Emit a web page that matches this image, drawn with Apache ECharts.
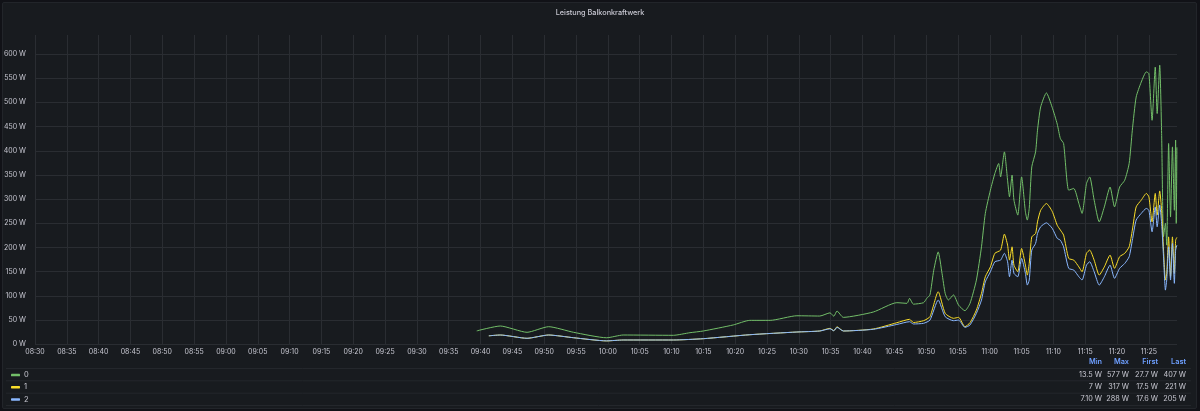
<!DOCTYPE html>
<html>
<head>
<meta charset="utf-8">
<script src="https://cdn.jsdelivr.net/npm/echarts@6/dist/echarts.min.js"></script>
<style>
  html, body { margin: 0; padding: 0; background: #111217; }
  #panel { position: absolute; left: 2px; top: 2px; width: 1193px; height: 405px;
           background: #181b1f; border: 1px solid #22252a; border-radius: 2px; }
  #chart { position: absolute; left: 0; top: 0; width: 1200px; height: 411px; }
</style>
</head>
<body>
<div id="panel"></div>
<div id="chart"></div>
<script>
var seriesNames = ['0', '1', '2'];
var seriesColors = ['#73bf69', '#fade2a', '#8ab8ff'];

// Serie 0 (gruen) startet etwas frueher
var times0 = ['09:39:24','09:43:06','09:47:18','09:50:42','09:54:36','09:59:48','10:02:24','10:10:18','10:12:54','10:15:00',
  '10:19:42','10:22:18','10:25:30','10:29:42','10:33:18','10:34:54','10:35:30','10:36:00','10:37:00','10:41:42',
  '10:45:24','10:47:00','10:47:24','10:48:00','10:49:36','10:50:06','10:50:36','10:51:12','10:51:54','10:52:30',
  '10:53:00','10:53:30','10:54:18','10:55:06','10:56:06','10:56:54','10:57:54','10:58:42','10:59:18','11:00:06',
  '11:00:48','11:01:24','11:01:42','11:02:18','11:02:48','11:03:06','11:03:30','11:03:48','11:04:24','11:05:00',
  '11:05:36','11:05:54','11:06:12','11:06:36','11:07:12','11:07:30','11:08:00','11:08:54','11:09:48','11:10:36',
  '11:11:06','11:11:36','11:12:24','11:13:12','11:14:00','11:14:30','11:15:12','11:15:42','11:16:24','11:17:12',
  '11:18:00','11:18:54','11:19:36','11:20:24','11:21:12','11:21:54','11:22:24','11:23:00','11:23:48','11:24:36',
  '11:25:00','11:25:30','11:26:00','11:26:18','11:26:42','11:27:00','11:27:18','11:27:36','11:27:48','11:28:06',
  '11:28:24','11:28:42','11:29:00','11:29:12','11:29:18','11:29:24'];
var values0 = [27.7,37.8,24.8,36.4,24.8,13.5,19.2,18.6,24,27.5,
  40,49.5,49.5,59,58.4,65,58,68.8,55.7,66.7,
  86,84.7,95,83,86,95,102,153,191,146.6,
  105,91.5,102,81,69.4,84.7,132.8,201.5,270.5,318.6,
  353,373.7,346,397.7,339,304.8,349.6,298,267,346,
  273.8,256.7,280.8,366.7,397.7,442.5,490.6,519.5,490,455,
  425,415,318.6,322,291,270.5,332.4,346,298,253,
  284,325,284,325,339,373.7,442.5,511,542,563,
  559.6,463,573,477,577,435.7,222,250,205,415,
  263,408,277,422,250,407];

// Serien 1 und 2 (gelb, blau)
var times12 = ['09:41:18','09:43:06','09:47:18','09:50:42','09:54:36','09:59:48','10:02:24','10:10:18','10:15:00','10:22:18',
  '10:29:42','10:33:18','10:34:54','10:35:30','10:36:00','10:37:00','10:41:42','10:45:24','10:47:24','10:48:00',
  '10:49:36','10:50:36','10:51:54','10:53:00','10:54:18','10:55:06','10:56:06','10:56:54','10:57:54','10:58:42',
  '10:59:18','11:00:06','11:00:48','11:01:42','11:02:18','11:02:48','11:03:06','11:03:30','11:03:48','11:04:24',
  '11:05:00','11:05:36','11:05:54','11:06:12','11:06:36','11:07:12','11:07:30','11:08:00','11:08:54','11:09:48',
  '11:10:36','11:11:06','11:11:36','11:12:24','11:13:12','11:14:00','11:14:30','11:15:12','11:15:42','11:16:24',
  '11:17:12','11:18:00','11:18:54','11:19:36','11:20:24','11:21:12','11:21:54','11:22:24','11:23:00','11:23:48',
  '11:24:36','11:25:00','11:25:30','11:26:00','11:26:18','11:26:42','11:27:00','11:27:18','11:27:36','11:27:48',
  '11:28:06','11:28:24','11:28:42','11:29:00','11:29:12','11:29:24'];
var values1 = [17.5,19.2,12.4,19.2,13.6,7,8.9,8.9,11.6,19.8,
  25.4,27.5,33,28,36.3,27.5,31.6,44.6,51.6,45,
  48.8,57,108.6,64,53.7,55.7,36.3,44.6,70.8,105.3,
  139.6,160,188,194.7,227.7,205,174,201.5,163.7,150,
  198,163.7,143,167,222,229,253,277,291,275,
  246,236,225.7,177.6,174,160,150,188,194.7,174,
  143,160,184.4,157,181,188,201.5,236,284,298,
  311.8,304.8,253,311.8,267,317,277,194.7,132.8,146.6,
  222,139.6,222,146.6,215,221];
var values2 = [17.6,19.2,12.4,19.2,13.6,7.1,8.9,8.9,11.6,19.8,
  25.4,27.5,32,28,35,27.5,31,41,46.7,42,
  43.4,50,91.5,57,48.8,50,35,40,64,91.5,
  129,150,170.6,174,188,170.6,139.6,174,146.6,139.6,
  177.6,146.6,122.4,132.8,194.7,208.5,229,243,251,240,
  219,215,201.5,157,153.4,139.6,132.8,163.7,170.6,150,
  122.4,139.6,163.7,136.3,157,167,181,215,256.7,270.5,
  280.8,277,232.5,284,243,288,250,181,112,132.8,
  201.5,132.8,208.5,126,194.7,205];

// Legende als Tabelle
var statHeader = ['Min', 'Max', 'First', 'Last'];
var statMin = ['13.5 W', '7 W', '7.10 W'];
var statMax = ['577 W', '317 W', '288 W'];
var statFirst = ['27.7 W', '17.5 W', '17.6 W'];
var statLast = ['407 W', '221 W', '205 W'];

var xStart = '08:30:00';
var xEnd = '11:29:25';
var xLastTick = '11:25:00';

function toMin(t) {
  var p = t.split(':');
  return (+p[0]) * 60 + (+p[1]) + (+(p[2] || 0)) / 60;
}
function fmtMin(v) {
  var h = Math.floor(v / 60), m = Math.round(v - h * 60);
  return (h < 10 ? '0' : '') + h + ':' + (m < 10 ? '0' : '') + m;
}
function pairs(times, values) {
  return times.map(function (t, i) { return [toMin(t), values[i]]; });
}

var FONT = 'Inter';
var TXT = '#c7c7d1';
var GRID = '#2a2d32';

var myChart = echarts.init(document.getElementById('chart'), null, { renderer: 'canvas' });

var left = 35, right = 23;
var plotW = 1200 - left - right;
var pxPerMin = plotW / (toMin(xEnd) - toMin(xStart));

// Tabellen-Texte
var colRight = [1102, 1129, 1158, 1186];
var rowY = [375, 387.3, 399.3];
var graphics = [];
[368.5, 380.8, 393.2, 405.5].forEach(function (y) {
  graphics.push({ type: 'line', shape: { x1: 6, y1: y, x2: 1191, y2: y }, style: { stroke: '#24272c', lineWidth: 1 }, silent: true });
});
statHeader.forEach(function (h, c) {
  graphics.push({ type: 'text', x: colRight[c], y: 362,
    style: { text: h, fill: '#6e9fff', font: '600 7.3px ' + FONT, align: 'right', verticalAlign: 'middle' } });
});
[statMin, statMax, statFirst, statLast].forEach(function (col, c) {
  col.forEach(function (v, r) {
    graphics.push({ type: 'text', x: colRight[c], y: rowY[r],
      style: { text: v, fill: TXT, font: '7.3px ' + FONT, align: 'right', verticalAlign: 'middle' } });
  });
});

var option = {
  backgroundColor: 'transparent',
  animation: false,
  color: seriesColors,
  title: {
    text: 'Leistung Balkonkraftwerk',
    left: 'center',
    top: 4,
    textStyle: { color: TXT, fontSize: 7.3, fontWeight: 500, fontFamily: FONT }
  },
  legend: {
    orient: 'vertical',
    left: 11,
    top: 369,
    padding: 0,
    itemGap: 0.2,
    itemWidth: 9,
    itemHeight: 2.5,
    icon: 'roundRect',
    textStyle: { color: TXT, fontSize: 7.5, fontFamily: FONT, lineHeight: 12, padding: [0, 0, 0, -1] },
    data: seriesNames
  },
  grid: [
    { left: left, right: right, top: 54, height: 290.3 },
    { left: left, width: (toMin(xLastTick) - toMin(xStart)) * pxPerMin, top: 35, height: 309.3 }
  ],
  xAxis: [
    {
      type: 'value', gridIndex: 0,
      min: toMin(xStart), max: toMin(xEnd), interval: 5,
      axisLine: { show: false }, axisTick: { show: false },
      splitLine: { show: false },
      axisLabel: { color: TXT, fontSize: 7, fontFamily: FONT, margin: 4, showMaxLabel: false,
        formatter: function (v) { return fmtMin(v); } }
    },
    {
      type: 'value', gridIndex: 1,
      min: toMin(xStart), max: toMin(xLastTick), interval: 5,
      axisLine: { show: false }, axisTick: { show: false }, axisLabel: { show: false },
      splitLine: { show: true, lineStyle: { color: GRID, width: 1 } }
    }
  ],
  yAxis: [
    {
      type: 'value', gridIndex: 0, min: 0, max: 600, interval: 50,
      axisLine: { show: false }, axisTick: { show: false },
      splitLine: { show: true, lineStyle: { color: GRID, width: 1 } },
      axisLabel: { color: TXT, fontSize: 7, fontFamily: FONT, margin: 9,
        formatter: function (v) { return v + ' W'; } }
    },
    {
      type: 'value', gridIndex: 1, min: 0, max: 1, show: false, splitLine: { show: false }
    }
  ],
  series: [
    { name: seriesNames[0], type: 'line', xAxisIndex: 0, yAxisIndex: 0, showSymbol: false, smooth: 0.2,
      lineStyle: { width: 1 }, data: pairs(times0, values0) },
    { name: seriesNames[1], type: 'line', xAxisIndex: 0, yAxisIndex: 0, showSymbol: false, smooth: 0.2,
      lineStyle: { width: 1 }, data: pairs(times12, values1) },
    { name: seriesNames[2], type: 'line', xAxisIndex: 0, yAxisIndex: 0, showSymbol: false, smooth: 0.2,
      lineStyle: { width: 1 }, data: pairs(times12, values2) }
  ],
  graphic: graphics
};
myChart.setOption(option);
</script>
</body>
</html>
